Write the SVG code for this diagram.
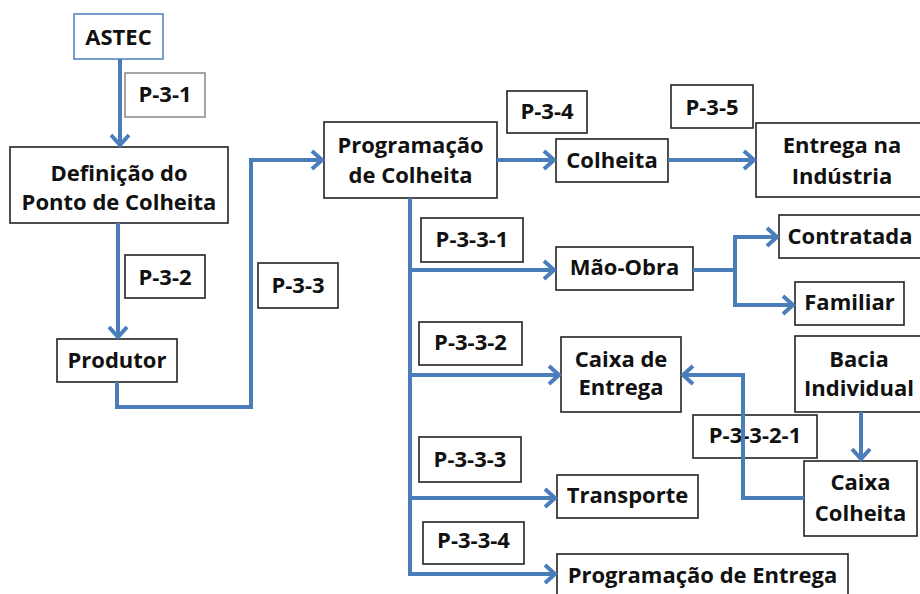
<svg xmlns="http://www.w3.org/2000/svg" width="920" height="594" viewBox="0 0 920 594">
<style>
.box{fill:#fff;stroke:#222;stroke-width:1.6}
.t{font-family:"Open Sans","Liberation Sans",sans-serif;font-weight:bold;font-size:22px;fill:#111;text-anchor:middle}
.c{fill:none;stroke:#4A7EBB;stroke-width:4;marker-end:url(#ah)}
.l{fill:none;stroke:#4A7EBB;stroke-width:4}
</style>
<defs>
<marker id="ah" markerUnits="userSpaceOnUse" markerWidth="30" markerHeight="30" viewBox="-20 -15 30 30" refX="0" refY="0" orient="auto" overflow="visible">
<path d="M-11,-9 L-1,0 L-11,9" fill="none" stroke="#4A7EBB" stroke-width="4"/>
</marker>
</defs>
<rect width="920" height="594" fill="#fff"/>
<g id="astec"><rect x="74" y="14" width="89" height="45" fill="#fff" stroke="#4A7EBB" stroke-width="1.5"/><text class="t" x="118.5" y="45">ASTEC</text></g>
<g id="p31"><rect x="125" y="73" width="80" height="44" fill="#fff" stroke="#888" stroke-width="1.5"/><text class="t" x="165" y="102">P-3-1</text></g>
<g id="definicao"><rect class="box" x="10" y="147" width="218" height="76"/><text class="t" x="119" y="181">Definição do</text><text class="t" x="119" y="210">Ponto de Colheita</text></g>
<g id="p32"><rect class="box" x="125" y="255" width="80" height="43"/><text class="t" x="165" y="285">P-3-2</text></g>
<g id="produtor"><rect class="box" x="57" y="339" width="120" height="43"/><text class="t" x="117" y="368">Produtor</text></g>
<g id="p33"><rect class="box" x="258" y="263" width="80" height="45"/><text class="t" x="298" y="293">P-3-3</text></g>
<g id="programacao"><rect class="box" x="324" y="122" width="173" height="76"/><text class="t" x="410.5" y="153">Programação</text><text class="t" x="410.5" y="183">de Colheita</text></g>
<g id="p34"><rect class="box" x="507" y="91" width="80" height="42"/><text class="t" x="547" y="119">P-3-4</text></g>
<g id="colheita"><rect class="box" x="556" y="139" width="112" height="43"/><text class="t" x="612" y="168">Colheita</text></g>
<g id="p35"><rect class="box" x="671" y="85" width="82" height="43"/><text class="t" x="712" y="115">P-3-5</text></g>
<g id="entrega"><rect class="box" x="756" y="123" width="172" height="74"/><text class="t" x="842" y="153">Entrega na</text><text class="t" x="842" y="184">Indústria</text></g>
<g id="p331"><rect class="box" x="421" y="218" width="102" height="44"/><text class="t" x="472" y="247">P-3-3-1</text></g>
<g id="maoobra"><rect class="box" x="556" y="247" width="137" height="43"/><text class="t" x="624.5" y="275">Mão-Obra</text></g>
<g id="contratada"><rect class="box" x="779" y="215" width="142" height="43"/><text class="t" x="850" y="244">Contratada</text></g>
<g id="familiar"><rect class="box" x="795" y="282" width="109" height="43"/><text class="t" x="849.5" y="310">Familiar</text></g>
<g id="p332"><rect class="box" x="419" y="322" width="103" height="43"/><text class="t" x="470.5" y="350">P-3-3-2</text></g>
<g id="caixaentrega"><rect class="box" x="561" y="337" width="120" height="75"/><text class="t" x="621" y="367">Caixa de</text><text class="t" x="621" y="395">Entrega</text></g>
<g id="bacia"><rect class="box" x="795" y="336" width="130" height="76"/><text class="t" x="859" y="367">Bacia</text><text class="t" x="859" y="396">Individual</text></g>
<g id="p3321"><rect class="box" x="693" y="415" width="124" height="43"/><text class="t" x="755" y="443">P-3-3-2-1</text></g>
<g id="p333"><rect class="box" x="419" y="437" width="102" height="45"/><text class="t" x="470" y="467">P-3-3-3</text></g>
<g id="transporte"><rect class="box" x="557" y="475" width="141" height="43"/><text class="t" x="627.5" y="503">Transporte</text></g>
<g id="caixacolheita"><rect class="box" x="804" y="461" width="113" height="75"/><text class="t" x="860.5" y="490">Caixa</text><text class="t" x="860.5" y="521">Colheita</text></g>
<g id="p334"><rect class="box" x="423" y="522" width="101" height="42"/><text class="t" x="473.5" y="548">P-3-3-4</text></g>
<g id="progentrega"><rect class="box" x="557" y="554" width="291" height="46"/><text class="t" x="702.5" y="583">Programação de Entrega</text></g>
<g id="connectors">
<path class="c" d="M120,59 V146"/>
<path class="c" d="M118,223 V338"/>
<path class="c" d="M117,382 V407 H251 V160 H323"/>
<path class="c" d="M497,160 H555"/>
<path class="c" d="M668,160 H755"/>
<path class="c" d="M410,198 V574 H556"/>
<path class="c" d="M410,270 H555"/>
<path class="c" d="M410,375 H560"/>
<path class="c" d="M410,498 H556"/>
<path class="l" d="M693,270 H735"/>
<path class="c" d="M735,270 V237 H778"/>
<path class="c" d="M735,270 V305 H794"/>
<path class="c" d="M804,498 H743 V375 H682"/>
<path class="c" d="M861,412 V460"/>
</g>
</svg>
